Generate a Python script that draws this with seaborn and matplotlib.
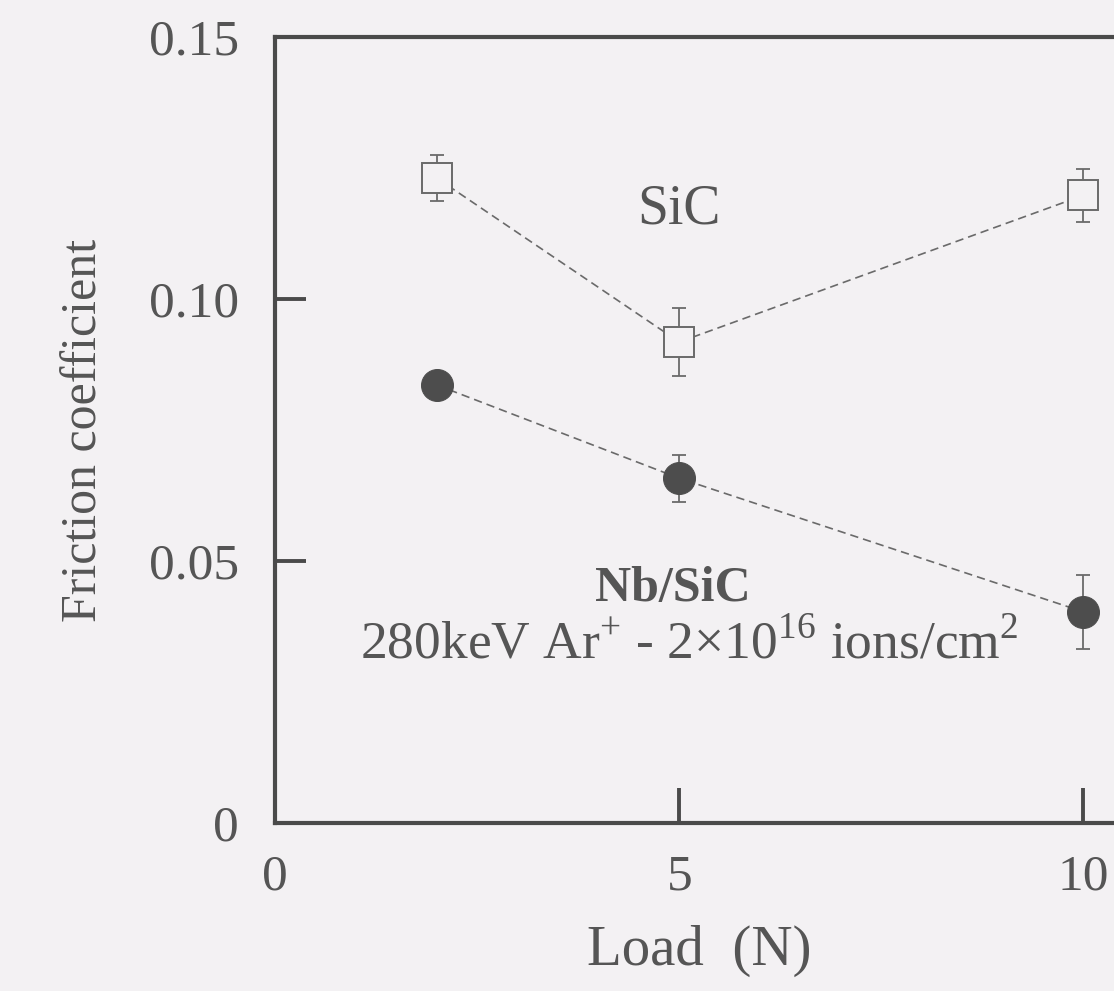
import matplotlib
matplotlib.use("Agg")
import matplotlib.pyplot as plt
import seaborn as sns
import pandas as pd

# Friction coefficient vs. applied load
load = [2, 5, 10]
sic_mu = [0.1231, 0.0918, 0.1198]
sic_err = [0.0043, 0.0064, 0.0050]
nb_mu = [0.0836, 0.0658, 0.0403]
nb_err = [0.0, 0.0045, 0.0070]

x_ticks = [0, 5, 10]
x_tick_labels = ["0", "5", "10"]
y_ticks = [0, 0.05, 0.10, 0.15]
y_tick_labels = ["0", "0.05", "0.10", "0.15"]

sic = pd.DataFrame({"load": load, "mu": sic_mu, "err": sic_err})
nb = pd.DataFrame({"load": load, "mu": nb_mu, "err": nb_err})

sns.set_theme(style="white")
plt.rcParams["font.family"] = ["Liberation Serif", "DejaVu Serif"]
plt.rcParams["mathtext.fontset"] = "custom"
plt.rcParams["mathtext.rm"] = "Liberation Serif"

bg = "#f3f1f3"
ink = "#4a4a4a"
txt = "#555555"

fig = plt.figure(figsize=(11.14, 9.91), dpi=100, facecolor=bg)
ax = fig.add_axes([0.2469, 0.1695, 0.7620, 0.7931], facecolor=bg)

# dashed connecting lines with markers
sns.lineplot(data=sic, x="load", y="mu", ax=ax, color="#6a6a6a", linestyle=(0, (5, 3)),
             linewidth=1.2, marker="s", markersize=22, markerfacecolor=bg,
             markeredgecolor="#6a6a6a", markeredgewidth=1.4, zorder=3)
sns.lineplot(data=nb, x="load", y="mu", ax=ax, color="#6a6a6a", linestyle=(0, (5, 3)),
             linewidth=1.2, marker="o", markersize=23, markerfacecolor="#4d4d4d",
             markeredgecolor="#4d4d4d", zorder=3)

# error bars
ax.errorbar(sic["load"], sic["mu"], yerr=sic["err"], fmt="none", ecolor="#6a6a6a",
            elinewidth=1.3, capsize=5, capthick=1.3, zorder=2)
ax.errorbar(nb["load"], nb["mu"], yerr=nb["err"], fmt="none", ecolor="#6a6a6a",
            elinewidth=1.3, capsize=5, capthick=1.3, zorder=2)

ax.set_xlim(0, 10.5)
ax.set_ylim(0, 0.15)
ax.set_xticks(x_ticks)
ax.set_xticklabels(x_tick_labels)
ax.set_yticks(y_ticks)
ax.set_yticklabels(y_tick_labels)

ax.tick_params(axis="x", bottom=True, direction="in", length=25, width=2.8, color=ink,
               pad=22, labelsize=37, labelcolor=txt)
ax.tick_params(axis="y", left=True, direction="in", length=22, width=2.8, color=ink,
               pad=26, labelsize=37, labelcolor=txt)

for side in ["left", "bottom", "top", "right"]:
    ax.spines[side].set_visible(True)
    ax.spines[side].set_color(ink)
    ax.spines[side].set_linewidth(3)

ax.set_xlabel("Load  (N)", fontsize=41, color=txt, labelpad=18)
ax.set_ylabel("Friction coefficient", fontsize=36, color=txt, labelpad=30)

ax.text(5.0, 0.1170, "SiC", fontsize=40, color=txt, ha="center", va="center")
ax.text(4.92, 0.0447, "Nb/SiC", fontsize=36, color=txt, ha="center", va="center",
        fontweight="bold")
ax.text(5.13, 0.0342,
        r"280keV Ar$^{+}$ - 2$\times$10$^{16}$ ions/cm$^{2}$",
        fontsize=38.5, color=txt, ha="center", va="center")

fig.savefig("out.png", dpi=100, facecolor=bg)
